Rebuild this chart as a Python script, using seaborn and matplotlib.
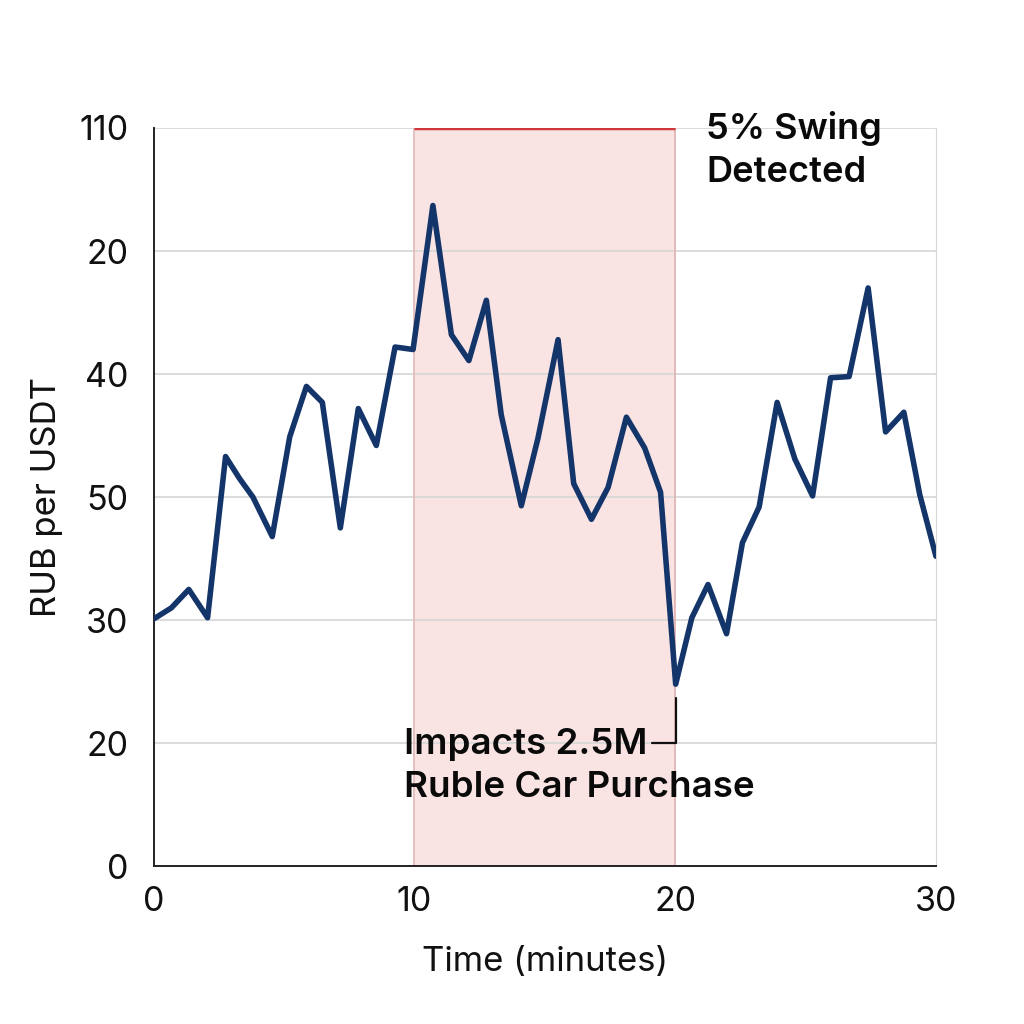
import numpy as np
import pandas as pd
import matplotlib
matplotlib.use("Agg")
import matplotlib.pyplot as plt
import seaborn as sns

# time in minutes and rate (plotted on an evenly spaced 0..6 tick scale)
minutes = [0.0, 0.68, 1.35, 2.07, 2.76, 3.30, 3.81, 4.55, 5.22, 5.86, 6.47, 7.16,
           7.85, 8.54, 9.26, 9.95, 10.71, 11.42, 12.09, 12.76, 13.33, 14.10, 14.74,
           15.51, 16.11, 16.79, 17.43, 18.13, 18.83, 19.44, 20.02, 20.64, 21.26,
           21.97, 22.58, 23.22, 23.91, 24.59, 25.27, 25.96, 26.67, 27.40, 28.07,
           28.77, 29.38, 30.0]
rate = [2.01, 2.10, 2.25, 2.02, 3.33, 3.15, 3.00, 2.68, 3.49, 3.90, 3.77, 2.75,
        3.72, 3.42, 4.22, 4.20, 5.37, 4.32, 4.11, 4.60, 3.67, 2.93, 3.48, 4.28,
        3.11, 2.82, 3.08, 3.65, 3.40, 3.04, 1.48, 2.02, 2.29, 1.89, 2.63, 2.92,
        3.77, 3.31, 3.01, 3.97, 3.98, 4.70, 3.53, 3.69, 3.02, 2.52]
y_ticks = [0, 1, 2, 3, 4, 5, 6]
y_tick_labels = ["0", "20", "30", "50", "40", "20", "110"]
x_ticks = [0, 10, 20, 30]
swing_start, swing_end = 10, 20
dip_minute = 20.02

df = pd.DataFrame({"minute": minutes, "rate": rate})

sns.set_style("white")
plt.rcParams["font.family"] = ["Inter", "DejaVu Sans"]

fig = plt.figure(figsize=(10.24, 10.24), dpi=100)
ax = fig.add_axes([0.150, 0.154, 0.764, 0.721])

# highlighted swing window
ax.axvspan(swing_start, swing_end, color="#f9dede", alpha=0.85, zorder=0, lw=0)
ax.axvline(swing_start, color="#e0b8b8", lw=1.2, zorder=1)
ax.axvline(swing_end, color="#e0b0b0", lw=1.2, zorder=1)
ax.plot([swing_start, swing_end], [6, 6], color="#d0373a", lw=2.5, zorder=3,
        solid_capstyle="butt")

sns.lineplot(data=df, x="minute", y="rate", color="#14356a", lw=4.0, ax=ax, zorder=4)

ax.set_xlim(0, 30)
ax.set_ylim(0, 6)
ax.set_yticks(y_ticks)
ax.set_yticklabels(y_tick_labels)
ax.set_xticks(x_ticks)
ax.tick_params(axis="both", length=0, labelsize=24.5, colors="#111111")
ax.tick_params(axis="y", pad=18)
ax.tick_params(axis="x", pad=14)
ax.grid(axis="y", color="#d6d6d6", lw=1.2)
ax.set_axisbelow(True)

ax.spines["top"].set_visible(False)
ax.spines["right"].set_color("#d6d6d6")
ax.spines["left"].set_color("#222222")
ax.spines["bottom"].set_color("#222222")
ax.spines["left"].set_linewidth(1.4)
ax.spines["bottom"].set_linewidth(1.4)

ax.set_xlabel("Time (minutes)", fontsize=25, labelpad=20, color="#111111")
ax.set_ylabel("RUB per USDT", fontsize=25, labelpad=12, color="#111111")

# annotations
ax.text(21.2, 5.82, "5% Swing\nDetected", fontsize=26, fontweight="semibold",
        va="center", ha="left", linespacing=1.38, clip_on=False, color="#0a0a0a")
ax.text(9.6, 0.815, "Impacts 2.5M\nRuble Car Purchase", fontsize=26.5, fontweight="semibold",
        va="center", ha="left", linespacing=1.38, zorder=5, color="#0a0a0a")
ax.plot([19.1, dip_minute, dip_minute], [1.0, 1.0, 1.37], color="#111111", lw=1.6, zorder=5)

fig.savefig("out.png", dpi=100)
